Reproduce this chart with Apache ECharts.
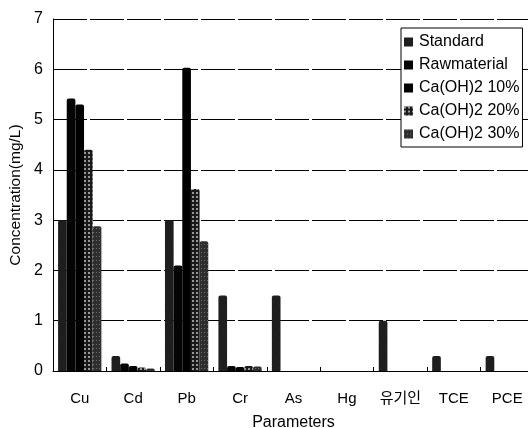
<!DOCTYPE html>
<html><head><meta charset="utf-8">
<script src="https://cdn.jsdelivr.net/npm/echarts@6/dist/echarts.min.js"></script>
<style>html,body{margin:0;padding:0;background:#fff}#c{width:528px;height:428px}</style>
</head><body><div id="c"></div>
<script>
const categories = ['Cu','Cd','Pb','Cr','As','Hg','유기인','TCE','PCE'];
const seriesNames = ['Standard','Rawmaterial','Ca(OH)2 10%','Ca(OH)2 20%','Ca(OH)2 30%'];
const standard = [3.0, 0.30, 3.0, 1.5, 1.5, 0, 1.0, 0.3, 0.3];
const rawmaterial = [5.42, 0.15, 2.1, 0.10, 0, 0, 0, 0, 0];
const ca10 = [5.30, 0.10, 6.03, 0.08, 0, 0, 0, 0, 0];
const ca20 = [4.40, 0.07, 3.62, 0.10, 0, 0, 0, 0, 0];
const ca30 = [2.88, 0.05, 2.58, 0.09, 0, 0, 0, 0, 0];
const yTicks = [0,1,2,3,4,5,6,7];

const FONT = "'Liberation Sans', Arial, 'Noto Sans CJK KR', sans-serif";
const styles = [
  {color:'#1e1e1e', decal:{symbol:'rect', symbolSize:0.5, color:'rgba(255,255,255,0.25)', dashArrayX:[1,5], dashArrayY:[1,6], rotation:0.5}},
  {color:'#050505'},
  {color:'#000000'},
  {color:'#1a1a1a', decal:{symbol:'rect', symbolSize:1, color:'rgba(255,255,255,0.55)', dashArrayX:[2,2], dashArrayY:[2,2]}},
  {color:'#2e2e2e', decal:{symbol:'rect', symbolSize:1, color:'rgba(255,255,255,0.3)', dashArrayX:[1,2], dashArrayY:[1,3]}}
];
const dataSets = [standard, rawmaterial, ca10, ca20, ca30];

const chart = echarts.init(document.getElementById('c'), null, {renderer:'canvas'});
chart.setOption({
  animation:false,
  backgroundColor:'#fff',
  textStyle:{fontFamily:FONT, color:'#000'},
  grid:{left:53, right:-6, top:19, bottom:57, containLabel:false, outerBoundsMode:'none'},
  legend:{
    orient:'vertical', left:401, top:28,
    data:seriesNames,
    itemWidth:9, itemHeight:9, itemGap:7,
    icon:'rect',
    backgroundColor:'#fff', borderColor:'#000', borderWidth:1,
    padding:[6,3,5,3],
    textStyle:{fontFamily:FONT, fontSize:16, color:'#000', padding:[0,0,0,1]}
  },
  xAxis:{
    type:'category', data:categories,
    name:'Parameters', nameLocation:'middle', nameGap:44,
    nameTextStyle:{fontFamily:FONT, fontSize:16, color:'#000'},
    axisLine:{lineStyle:{color:'#000', width:1}},
    axisTick:{show:true, inside:true, length:4, lineStyle:{color:'#000'}},
    axisLabel:{fontFamily:FONT, fontSize:15, color:'#000', margin:20, interval:0, hideOverlap:false}
  },
  yAxis:{
    type:'value', min:0, max:7, interval:1,
    name:'Concentration(mg/L)', nameLocation:'middle', nameGap:26, nameRotate:90,
    nameTextStyle:{fontFamily:FONT, fontSize:15.5, color:'#000'},
    axisLine:{show:true, lineStyle:{color:'#000', width:1}},
    axisTick:{show:false},
    axisLabel:{fontFamily:FONT, fontSize:16, color:'#000', margin:10,
      formatter:v=>yTicks.includes(v)?String(v):''},
    splitLine:{show:true, lineStyle:{color:'#000', width:1, type:[34,3]}}
  },
  series: seriesNames.map((n,i)=>({
    name:n, type:'bar', data:dataSets[i],
    barGap:'0%', barCategoryGap:'19%',
    itemStyle:Object.assign({borderRadius:[2,2,0,0]}, styles[i])
  }))
});
</script></body></html>
